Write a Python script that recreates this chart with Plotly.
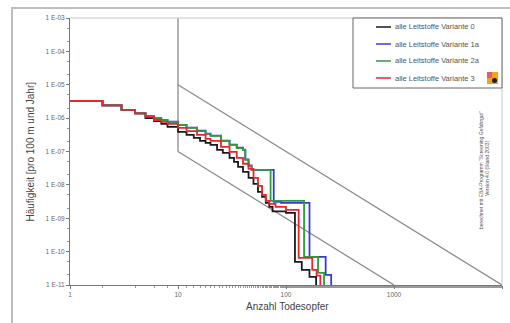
import plotly.graph_objects as go

# ---------------- data ----------------
x_ticks = [1, 10, 100, 1000, 10000]
x_tick_labels = ["1", "10", "100", "1000", "10000"]
y_ticks = [1e-11, 1e-10, 1e-9, 1e-8, 1e-7, 1e-6, 1e-5, 1e-4, 1e-3]
y_tick_labels = ["1 E-11", "1 E-10", "1 E-09", "1 E-08", "1 E-07",
                 "1 E-06", "1 E-05", "1 E-04", "1 E-03"]

series_names = ["alle Leitstoffe Variante 0", "alle Leitstoffe Variante 1a",
                "alle Leitstoffe Variante 2a", "alle Leitstoffe Variante 3"]

n_v0 = [1, 2, 3, 4, 5, 6, 7, 8, 10, 12, 14, 16, 18, 20, 23, 26, 30, 33, 36, 40,
        45, 50, 55, 60, 65, 70, 75, 100, 121, 140, 165, 190]
f_v0 = [3.3e-6, 2.4e-6, 1.76e-6, 1.38e-6, 1.01e-6, 8.2e-7, 6.7e-7, 5.45e-7, 3.86e-7,
        3.14e-7, 2.55e-7, 2.07e-7, 1.81e-7, 1.58e-7, 1.12e-7, 9.1e-8, 6.4e-8, 4.9e-8,
        3.46e-8, 2.45e-8, 1.62e-8, 1.07e-8, 6.2e-9, 4.4e-9, 2.9e-9, 2.2e-9, 1.6e-9,
        1.45e-9, 4.95e-11, 2.85e-11, 1.75e-11, 1e-11]

n_v1a = [1, 2, 3, 4, 5, 6, 7, 8, 10, 12, 15, 18, 20, 25, 30, 35, 40, 42, 45, 48,
         77, 90, 165, 233, 262]
f_v1a = [3.3e-6, 2.4e-6, 1.76e-6, 1.38e-6, 1.16e-6, 1.0e-6, 8.9e-7, 7.8e-7, 6.3e-7,
         5.2e-7, 4.2e-7, 3.4e-7, 3.0e-7, 2.1e-7, 1.6e-7, 1.3e-7, 1.14e-7, 5.8e-8,
         3.8e-8, 2.8e-8, 3.1e-9, 2.9e-9, 7.0e-11, 2.0e-11, 1e-11]

n_v2a = [1, 2, 3, 4, 5, 6, 7, 8, 10, 12, 15, 18, 20, 25, 30, 35, 40, 42, 45, 48,
         72, 147, 198, 225]
f_v2a = [3.3e-6, 2.4e-6, 1.76e-6, 1.38e-6, 1.16e-6, 1.0e-6, 8.8e-7, 7.7e-7, 6.25e-7,
         5.1e-7, 4.1e-7, 3.37e-7, 2.93e-7, 2.07e-7, 1.58e-7, 1.27e-7, 1.12e-7, 5.6e-8,
         3.7e-8, 2.8e-8, 3.3e-9, 7.0e-11, 2.3e-11, 1e-11]

n_v3 = [1, 2, 3, 4, 5, 6, 7, 8, 10, 12, 15, 18, 20, 25, 30, 35, 40, 45, 50, 55, 60,
        65, 70, 80, 100, 131, 175, 192, 208]
f_v3 = [3.3e-6, 2.4e-6, 1.76e-6, 1.38e-6, 1.09e-6, 8.8e-7, 7.7e-7, 6.7e-7, 5.1e-7,
        4.1e-7, 3.14e-7, 2.38e-7, 2.07e-7, 1.37e-7, 9.7e-8, 6.4e-8, 4.3e-8, 3.0e-8,
        1.62e-8, 9.3e-9, 5.0e-9, 3.3e-9, 2.7e-9, 2.2e-9, 1.78e-9, 6.5e-11, 2.85e-11,
        1.9e-11, 1e-11]

# criterion lines
crit_vert_n = [10, 10]
crit_vert_f = [1e-3, 1e-7]
crit_low_n = [10, 1000]
crit_low_f = [1e-7, 1e-11]
crit_up_n = [10, 10000]
crit_up_f = [1e-5, 1e-11]

colors = ["#1a1a1a", "#3a3ad0", "#2f9a3f", "#e8262c"]

# ---------------- figure ----------------
fig = go.Figure()
grey = "#8a8a8a"
for xn, yf in [(crit_vert_n, crit_vert_f), (crit_low_n, crit_low_f), (crit_up_n, crit_up_f)]:
    fig.add_trace(go.Scatter(x=xn, y=yf, mode="lines", line=dict(color=grey, width=1.3),
                             showlegend=False, hoverinfo="skip"))

for name, xn, yf, c in [(series_names[0], n_v0, f_v0, colors[0]),
                        (series_names[1], n_v1a, f_v1a, colors[1]),
                        (series_names[2], n_v2a, f_v2a, colors[2]),
                        (series_names[3], n_v3, f_v3, colors[3])]:
    fig.add_trace(go.Scatter(x=xn, y=yf, mode="lines", name=name, line_shape="hv",
                             line=dict(color=c, width=1.8), showlegend=False))

FONT = "Liberation Sans"
L, R, T, B = 70, 8, 18, 38
W, H = 510, 323
pw, ph = W - L - R, H - T - B


def px(x):
    return (x - L) / pw


def py(y):
    return (H - B - y) / ph


fig.update_layout(
    width=W, height=H,
    margin=dict(l=L, r=R, t=T, b=B, autoexpand=False),
    paper_bgcolor="white", plot_bgcolor="white",
    font=dict(family=FONT, color="#555"),
    showlegend=False,
)
fig.update_xaxes(type="log", range=[0, 4], tickvals=x_ticks, ticktext=x_tick_labels,
                 showgrid=False, zeroline=False, showline=True, linecolor="#777",
                 linewidth=1, ticks="outside", ticklen=3, tickcolor="#777",
                 tickfont=dict(size=6.5, color="#666"), automargin=False,
                 minor=dict(ticks="outside", ticklen=2, tickcolor="#999", showgrid=False))
fig.update_yaxes(type="log", range=[-11, -3], tickvals=y_ticks, ticktext=y_tick_labels,
                 showgrid=False, zeroline=False, showline=True, linecolor="#777",
                 linewidth=1, ticks="outside", ticklen=3, tickcolor="#777",
                 tickfont=dict(size=6.5, color="#666"), automargin=False,
                 minor=dict(ticks="outside", ticklen=2, tickcolor="#999", showgrid=False))

shapes = []
# outer frame
shapes.append(dict(type="rect", xref="paper", yref="paper", x0=px(12), x1=px(530),
                   y0=py(340), y1=py(8), line=dict(color="#bdbdbd", width=2)))
# top and right border of plot area
shapes.append(dict(type="line", xref="paper", yref="paper", x0=0, x1=1, y0=1, y1=1,
                   line=dict(color="#c8c8c8", width=1)))
shapes.append(dict(type="line", xref="paper", yref="paper", x0=1, x1=1, y0=0, y1=1,
                   line=dict(color="#c8c8c8", width=1)))
# legend box
shapes.append(dict(type="rect", xref="paper", yref="paper", x0=px(353), x1=px(502),
                   y0=py(88), y1=py(18), line=dict(color="#666", width=1),
                   fillcolor="white"))
legend_y = [27, 44, 61, 78]
annotations = []
for i in range(4):
    shapes.append(dict(type="line", xref="paper", yref="paper", x0=px(376), x1=px(391),
                       y0=py(legend_y[i]), y1=py(legend_y[i]),
                       line=dict(color=colors[i], width=1.5)))
    annotations.append(dict(xref="paper", yref="paper", x=px(393), y=py(legend_y[i]),
                            text=series_names[i], showarrow=False, xanchor="left",
                            yanchor="middle", font=dict(size=7.5, color="#555", family=FONT)))
# small logo
shapes.append(dict(type="rect", xref="paper", yref="paper", x0=px(487), x1=px(498),
                   y0=py(84), y1=py(72), line=dict(width=0), fillcolor="#f4a21c"))
shapes.append(dict(type="rect", xref="paper", yref="paper", x0=px(487), x1=px(492),
                   y0=py(78), y1=py(72), line=dict(width=0), fillcolor="#e85a6a"))
shapes.append(dict(type="circle", xref="paper", yref="paper", x0=px(492), x1=px(497),
                   y0=py(83), y1=py(78), line=dict(width=0), fillcolor="#222"))

# axis titles
annotations.append(dict(xref="paper", yref="paper", x=px(22), y=py(152),
                        text="Häufigkeit [pro 100 m und Jahr]", textangle=-90,
                        showarrow=False, font=dict(size=10, color="#444", family=FONT)))
annotations.append(dict(xref="paper", yref="paper", x=px(287), y=py(313),
                        text="Anzahl Todesopfer", showarrow=False, borderpad=0,
                        font=dict(size=10, color="#444", family=FONT)))
# vertical note at right
annotations.append(dict(xref="paper", yref="paper", x=px(486), y=py(170),
                        text="berechnet mit EBA-Programm \"Screening Gefahrgut\"",
                        textangle=-90, showarrow=False,
                        font=dict(size=5, color="#555", family=FONT)))
annotations.append(dict(xref="paper", yref="paper", x=px(492), y=py(198),
                        text="Version 4.0 (Stand 2003)", textangle=-90,
                        showarrow=False, font=dict(size=5, color="#555", family=FONT)))

fig.update_layout(shapes=shapes, annotations=annotations)
fig.write_html("out.html", config={"displayModeBar": False},
               post_script="document.body.style.margin='0';")
